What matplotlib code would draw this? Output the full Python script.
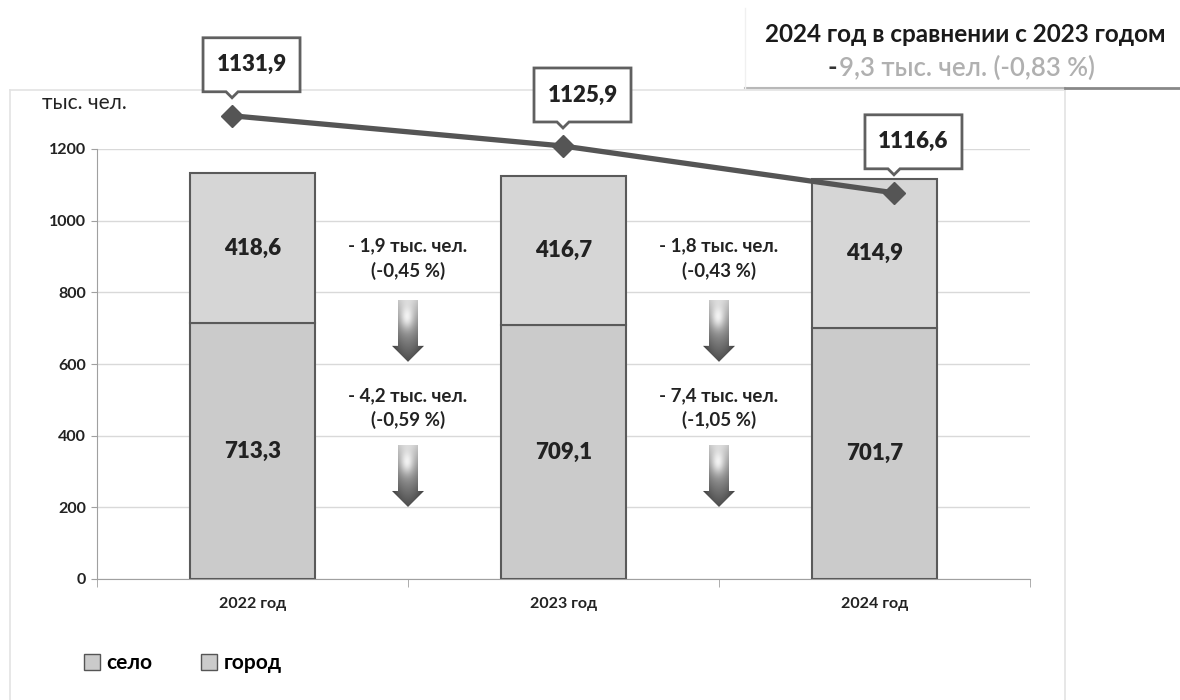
import numpy as np
import matplotlib
matplotlib.use('Agg')
import matplotlib.pyplot as plt
from matplotlib.patches import Polygon, Patch
from matplotlib.transforms import ScaledTranslation
from matplotlib.lines import Line2D
from matplotlib.offsetbox import TextArea, HPacker, AnnotationBbox

plt.rcParams['font.family'] = ['Lato', 'DejaVu Sans']

# data
years = ['2022 год', '2023 год', '2024 год']
gorod = [713.3, 709.1, 701.7]
selo = [418.6, 416.7, 414.9]
total = [1131.9, 1125.9, 1116.6]
selo_change = ['- 1,9 тыс. чел.\n(-0,45 %)', '- 1,8 тыс. чел.\n(-0,43 %)']
gorod_change = ['- 4,2 тыс. чел.\n(-0,59 %)', '- 7,4 тыс. чел.\n(-1,05 %)']
summary_title = '2024 год в сравнении с 2023 годом'
summary_sign = '-'
summary_value = '9,3 тыс. чел. (-0,83 %)'


def fmt(v):
    return f'{v:.1f}'.replace('.', ',')


fig = plt.figure(figsize=(11.8, 7), dpi=100)
W, H = 1180, 700
rect = [97 / W, 1 - 579 / H, (1030 - 97) / W, 430 / H]
ax = fig.add_axes(rect)

x = np.arange(len(years))
ax.bar(x, gorod, 0.4, color='#cbcbcb', edgecolor='#5a5a5a', lw=1.5, zorder=3)
ax.bar(x, selo, 0.4, bottom=gorod, color='#d6d6d6', edgecolor='#5a5a5a', lw=1.5, zorder=3)

for xi, g, s in zip(x, gorod, selo):
    ax.text(xi, g / 2, fmt(g), ha='center', va='center', fontsize=16,
            weight='heavy', color='#222222', zorder=4)
    ax.text(xi, g + s / 2, fmt(s), ha='center', va='center', fontsize=16,
            weight='heavy', color='#222222', zorder=4)

ax.set_xticks(x)
ax.set_xticklabels(years)
ax.set_xticks([-0.5, 0.5, 1.5, 2.5], minor=True)
ax.set_yticks(range(0, 1201, 200))
ax.grid(axis='y', color='#d9d9d9', lw=1)
ax.set_axisbelow(True)
for sp in ['top', 'right']:
    ax.spines[sp].set_visible(False)
for sp in ['left', 'bottom']:
    ax.spines[sp].set_color('#a0a0a0')
ax.tick_params(axis='y', length=4, color='#a0a0a0', labelsize=11.5, pad=4, labelcolor='#222222')
ax.tick_params(axis='x', which='major', length=0, labelsize=11.5, pad=13, labelcolor='#222222')
ax.tick_params(axis='x', which='minor', length=6, color='#a0a0a0')
for lab in ax.get_xticklabels() + ax.get_yticklabels():
    lab.set_fontweight('bold')


# change notes between the bars
def grad_arrow(xc, ytop):
    tr = fig.dpi_scale_trans + ScaledTranslation(xc, ytop, ax.transData)
    verts = np.array([(-10, 0), (10, 0), (10, -46), (16, -46), (0, -62),
                      (-16, -46), (-10, -46)]) / 100
    poly = Polygon(verts, closed=True, transform=tr, fc='none', ec='none')
    ax.add_artist(poly)
    xx, yy = np.meshgrid(np.linspace(-16, 16, 64), np.linspace(0, -62, 124))
    t = -yy / 62
    img = 0.85 - 0.55 * t - 0.2 * (xx / 16) ** 2
    img += 0.25 * np.exp(-((xx + 1) ** 2 / 40 + (yy + 18) ** 2 / 120))
    im = ax.imshow(np.clip(img, 0, 1), cmap='gray', vmin=0, vmax=1,
                   extent=[-0.16, 0.16, -0.62, 0], transform=tr,
                   aspect='auto', zorder=4, interpolation='bilinear')
    im.set_clip_path(poly)


for i in range(2):
    xc = i + 0.5
    ax.text(xc, 894, selo_change[i], ha='center', va='center', fontsize=13.5,
            weight='bold', color='#222222', linespacing=1.45, zorder=4)
    grad_arrow(xc, 779)
    ax.text(xc, 478, gorod_change[i], ha='center', va='center', fontsize=13.5,
            weight='bold', color='#222222', linespacing=1.45, zorder=4)
    grad_arrow(xc, 374)

ax.set_xlim(-0.5, 2.5)
ax.set_ylim(0, 1200)

# total population line on its own hidden scale
ax2 = fig.add_axes(rect)
ax2.set_xlim(-0.408, 2.411)
ax2.set_ylim(1039.9, 1125.3)
ax2.axis('off')
ax2.plot(x, total, color='#555555', lw=3.8, marker='D', ms=11, clip_on=False, zorder=5)

for xi, v in zip(x, total):
    tr = fig.dpi_scale_trans + ScaledTranslation(xi, v, ax2.transData)
    verts = np.array([(-29, 24), (-6, 24), (0, 18), (6, 24), (68, 24),
                      (68, 78), (-29, 78)]) / 100
    fig.add_artist(Polygon(verts, closed=True, transform=tr, fc='white',
                           ec='#606060', lw=2, zorder=6))
    t = fig.text(0.195, 0.51, fmt(v), ha='center', va='center', fontsize=16,
                 weight='heavy', color='#222222', zorder=7)
    t.set_transform(tr)

fig.text(42 / W, 1 - 103 / H, 'тыс. чел.', ha='left', va='center', fontsize=15,
         color='#222222')

fig.legend([Patch(fc='#cbcbcb', ec='#555555'), Patch(fc='#cbcbcb', ec='#555555')],
           ['село', 'город'], loc='center left',
           bbox_to_anchor=(65 / W, 1 - 663 / H), ncol=2, frameon=False,
           handlelength=0.8, handleheight=0.8, handletextpad=0.3,
           columnspacing=2.3, prop=dict(weight='bold', size=15))

# frame lines
fig.add_artist(Line2D([10 / W, 10 / W], [0, 1 - 90 / H], transform=fig.transFigure,
                      color='#e3e3e3', lw=1.2))
fig.add_artist(Line2D([10 / W, 1065 / W], [1 - 90 / H, 1 - 90 / H],
                      transform=fig.transFigure, color='#e3e3e3', lw=1.2))
fig.add_artist(Line2D([1065 / W, 1065 / W], [0, 1 - 90 / H], transform=fig.transFigure,
                      color='#e3e3e3', lw=1.2))
fig.add_artist(Line2D([745 / W, 1065 / W], [1 - 88 / H, 1 - 88 / H],
                      transform=fig.transFigure, color='#b8b8b8', lw=1.5))
fig.add_artist(Line2D([1065 / W, 1], [1 - 88 / H, 1 - 88 / H],
                      transform=fig.transFigure, color='#888888', lw=2))
fig.add_artist(Line2D([745 / W, 745 / W], [1 - 88 / H, 1 - 8 / H],
                      transform=fig.transFigure, color='#f0f0f0', lw=1))

# summary box
fig.text(965 / W, 1 - 35 / H, summary_title, ha='center', va='center', fontsize=17.5,
         weight='bold', color='#1a1a1a')
row = HPacker(children=[TextArea(summary_sign, textprops=dict(color='#333333', weight='bold', size=18.5)),
                        TextArea(summary_value, textprops=dict(color='#b0b0b0', weight=600, size=18.5))],
              align='baseline', pad=0, sep=1)
fig.add_artist(AnnotationBbox(row, (961 / W, 1 - 68 / H), xycoords='figure fraction',
                              frameon=False, box_alignment=(0.5, 0.5)))

fig.savefig('out.png', dpi=100)
